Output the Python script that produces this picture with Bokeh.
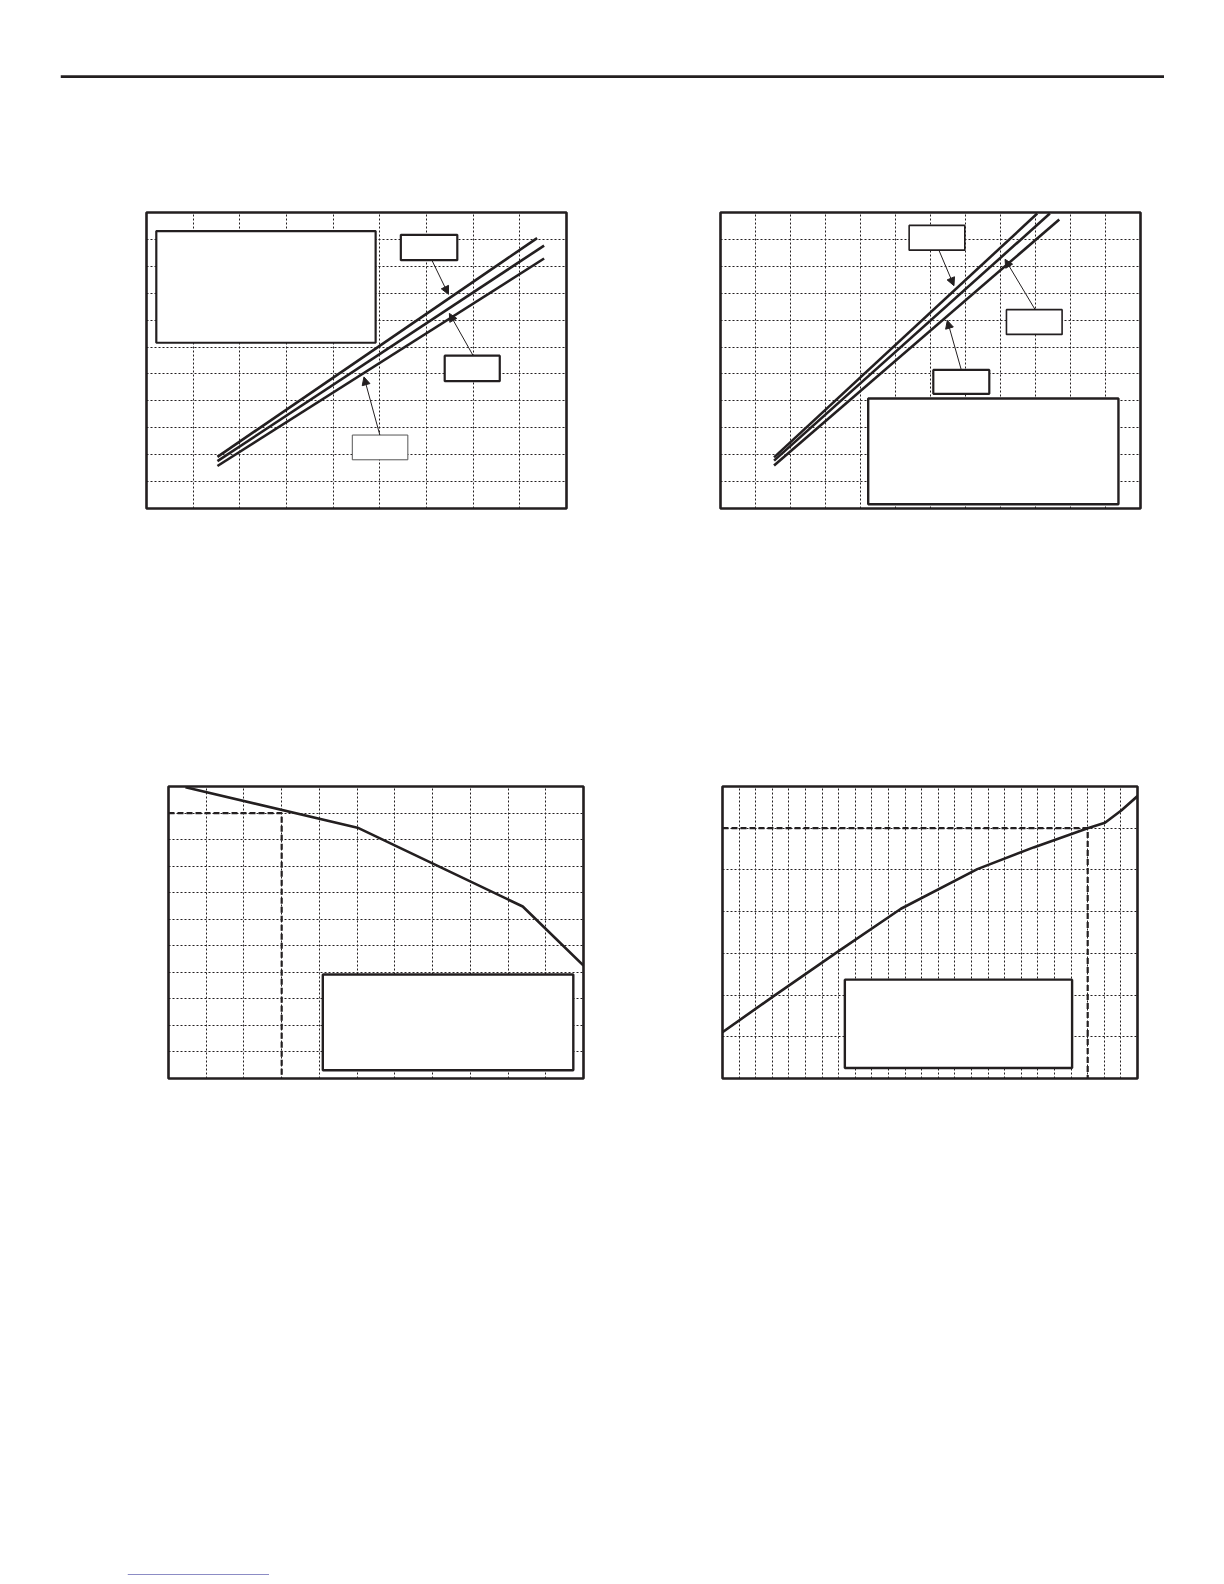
from bokeh.plotting import figure
from bokeh.models import Range1d, Grid, FixedTicker, Arrow, NormalHead, ColumnDataSource, Spacer
from bokeh.layouts import column, row
from bokeh.embed import file_html
from bokeh.resources import INLINE

INK = "#231f20"
LINK = "#1a1a8c"

# ---------------- data ----------------
# Chart 1 (grid 9 x 11)
c1_cols, c1_rows = 9, 11
c1_a_x = [1.52, 8.37]; c1_a_y = [1.92, 10.05]
c1_b_x = [1.52, 8.52]; c1_b_y = [1.76, 9.77]
c1_c_x = [1.52, 8.52]; c1_c_y = [1.58, 9.29]
c1_note_left, c1_note_right, c1_note_top, c1_note_bottom = [0.21], [4.91], [10.31], [6.16]
c1_lbl_left = [5.45, 6.39, 4.41]
c1_lbl_right = [6.66, 7.57, 5.60]
c1_lbl_top = [10.17, 5.68, 2.73]
c1_lbl_bottom = [9.23, 4.73, 1.81]
c1_lbl_width = [2.2, 2.2, 1.0]
c1_lbl_color = [INK, INK, "#555555"]
c1_arr_x0 = [6.12, 7.00, 5.00]; c1_arr_y0 = [9.21, 5.68, 2.73]
c1_arr_x1 = [6.47, 6.49, 4.66]; c1_arr_y1 = [7.96, 7.25, 4.89]

# Chart 2 (grid 12 x 11)
c2_cols, c2_rows = 12, 11
c2_a_x = [1.53, 9.05]; c2_a_y = [1.90, 10.96]
c2_b_x = [1.53, 9.41]; c2_b_y = [1.78, 10.96]
c2_c_x = [1.53, 9.68]; c2_c_y = [1.60, 10.74]
c2_note_left, c2_note_right, c2_note_top, c2_note_bottom = [4.22], [11.37], [4.09], [0.16]
c2_lbl_left = [5.39, 8.17, 6.08]
c2_lbl_right = [6.98, 9.76, 7.68]
c2_lbl_top = [10.52, 7.39, 5.15]
c2_lbl_bottom = [9.60, 6.47, 4.26]
c2_lbl_width = [1.6, 1.6, 2.2]
c2_arr_x0 = [6.24, 8.99, 6.88]; c2_arr_y0 = [9.60, 7.39, 5.15]
c2_arr_x1 = [6.67, 8.13, 6.48]; c2_arr_y1 = [8.28, 9.26, 6.99]

# Chart 3 (grid 11 x 11)
c3_cols, c3_rows = 11, 11
c3_curve_x = [0.45, 5.01, 9.39, 11.0]
c3_curve_y = [10.97, 9.45, 6.48, 4.25]
c3_ref_x = 3.0; c3_ref_y = 10.0
c3_note_left, c3_note_right, c3_note_top, c3_note_bottom = [4.09], [10.73], [3.92], [0.31]

# Chart 4 (grid 25 x 7)
c4_cols, c4_rows = 25, 7
c4_curve_x = [0.0, 3.06, 6.95, 10.75, 15.35, 18.74, 22.0, 23.04, 24.04, 25.0]
c4_curve_y = [1.11, 1.97, 3.04, 4.07, 5.02, 5.54, 6.00, 6.13, 6.43, 6.77]
c4_ref_x = 22.0; c4_ref_y = 6.0
c4_note_left, c4_note_right, c4_note_top, c4_note_bottom = [7.37], [21.06], [2.37], [0.25]

B = 4  # border around frame


def make_chart(fw, fh, ncols, nrows):
    p = figure(width=fw + 2 * B, height=fh + 2 * B,
               x_range=Range1d(0, ncols), y_range=Range1d(0, nrows),
               x_axis_type=None, y_axis_type=None,
               toolbar_location=None, output_backend="svg",
               min_border_left=B, min_border_right=B, min_border_top=B, min_border_bottom=B,
               outline_line_color=INK, outline_line_width=2.6,
               background_fill_color="white", border_fill_color="white")
    gx = Grid(dimension=0, ticker=FixedTicker(ticks=list(range(1, ncols))),
              grid_line_color=INK, grid_line_width=1, grid_line_dash="2 2")
    gy = Grid(dimension=1, ticker=FixedTicker(ticks=list(range(1, nrows))),
              grid_line_color=INK, grid_line_width=1, grid_line_dash="2 2")
    p.add_layout(gx)
    p.add_layout(gy)
    return p


def add_arrows(p, x0, y0, x1, y1):
    for a, b, c, d in zip(x0, y0, x1, y1):
        p.add_layout(Arrow(end=NormalHead(size=8, fill_color=INK, line_color=INK, line_width=1),
                           x_start=a, y_start=b, x_end=c, y_end=d,
                           line_color=INK, line_width=1))


# ---------- chart 1 ----------
p1 = make_chart(420, 296, c1_cols, c1_rows)
for xs, ys in [(c1_a_x, c1_a_y), (c1_b_x, c1_b_y), (c1_c_x, c1_c_y)]:
    p1.line(xs, ys, line_color=INK, line_width=2.6)
p1.quad(left=c1_note_left, right=c1_note_right, top=c1_note_top, bottom=c1_note_bottom,
        fill_color="white", line_color=INK, line_width=2.2)
p1.quad(source=ColumnDataSource(dict(l=c1_lbl_left, r=c1_lbl_right, t=c1_lbl_top, b=c1_lbl_bottom,
                                     w=c1_lbl_width, c=c1_lbl_color)),
        left="l", right="r", top="t", bottom="b", fill_color="white", line_color="c", line_width="w")
add_arrows(p1, c1_arr_x0, c1_arr_y0, c1_arr_x1, c1_arr_y1)

# ---------- chart 2 ----------
p2 = make_chart(420, 296, c2_cols, c2_rows)
for xs, ys in [(c2_a_x, c2_a_y), (c2_b_x, c2_b_y), (c2_c_x, c2_c_y)]:
    p2.line(xs, ys, line_color=INK, line_width=2.6)
p2.quad(left=c2_note_left, right=c2_note_right, top=c2_note_top, bottom=c2_note_bottom,
        fill_color="white", line_color=INK, line_width=2.4)
p2.quad(source=ColumnDataSource(dict(l=c2_lbl_left, r=c2_lbl_right, t=c2_lbl_top, b=c2_lbl_bottom,
                                     w=c2_lbl_width)),
        left="l", right="r", top="t", bottom="b", fill_color="white", line_color=INK, line_width="w")
add_arrows(p2, c2_arr_x0, c2_arr_y0, c2_arr_x1, c2_arr_y1)

# ---------- chart 3 ----------
p3 = make_chart(415, 292, c3_cols, c3_rows)
p3.line([0, c3_ref_x, c3_ref_x], [c3_ref_y, c3_ref_y, 0], line_color=INK, line_width=2.2, line_dash="6 3")
p3.line(c3_curve_x, c3_curve_y, line_color=INK, line_width=2.6)
p3.quad(left=c3_note_left, right=c3_note_right, top=c3_note_top, bottom=c3_note_bottom,
        fill_color="white", line_color=INK, line_width=2.4)

# ---------- chart 4 ----------
p4 = make_chart(415, 292, c4_cols, c4_rows)
p4.line([0, c4_ref_x, c4_ref_x], [c4_ref_y, c4_ref_y, 0], line_color=INK, line_width=2.2, line_dash="6 3")
p4.line(c4_curve_x, c4_curve_y, line_color=INK, line_width=2.6)
p4.quad(left=c4_note_left, right=c4_note_right, top=c4_note_top, bottom=c4_note_bottom,
        fill_color="white", line_color=INK, line_width=2.4)


def rule(w, h, color, lw):
    r = figure(width=w, height=h, x_axis_type=None, y_axis_type=None,
               toolbar_location=None, output_backend="svg", min_border=0,
               outline_line_color=None, background_fill_color="white", border_fill_color="white",
               x_range=Range1d(0, 1), y_range=Range1d(0, 1))
    r.segment(x0=[0], y0=[0.5], x1=[1], y1=[0.5], line_color=color, line_width=lw)
    return r


top_rule = rule(1104, 9, INK, 3.4)
bottom_rule = rule(142, 8, LINK, 2)

layout = column(
    Spacer(width=10, height=69),
    row(Spacer(width=60, height=9), top_rule),
    Spacer(width=10, height=130),
    row(Spacer(width=142, height=304), p1, Spacer(width=146, height=304), p2),
    Spacer(width=10, height=270),
    row(Spacer(width=164, height=300), p3, Spacer(width=131, height=300), p4),
    Spacer(width=10, height=485),
    row(Spacer(width=127, height=8), bottom_rule),
)

open("out.html", "w").write(file_html(layout, INLINE))
